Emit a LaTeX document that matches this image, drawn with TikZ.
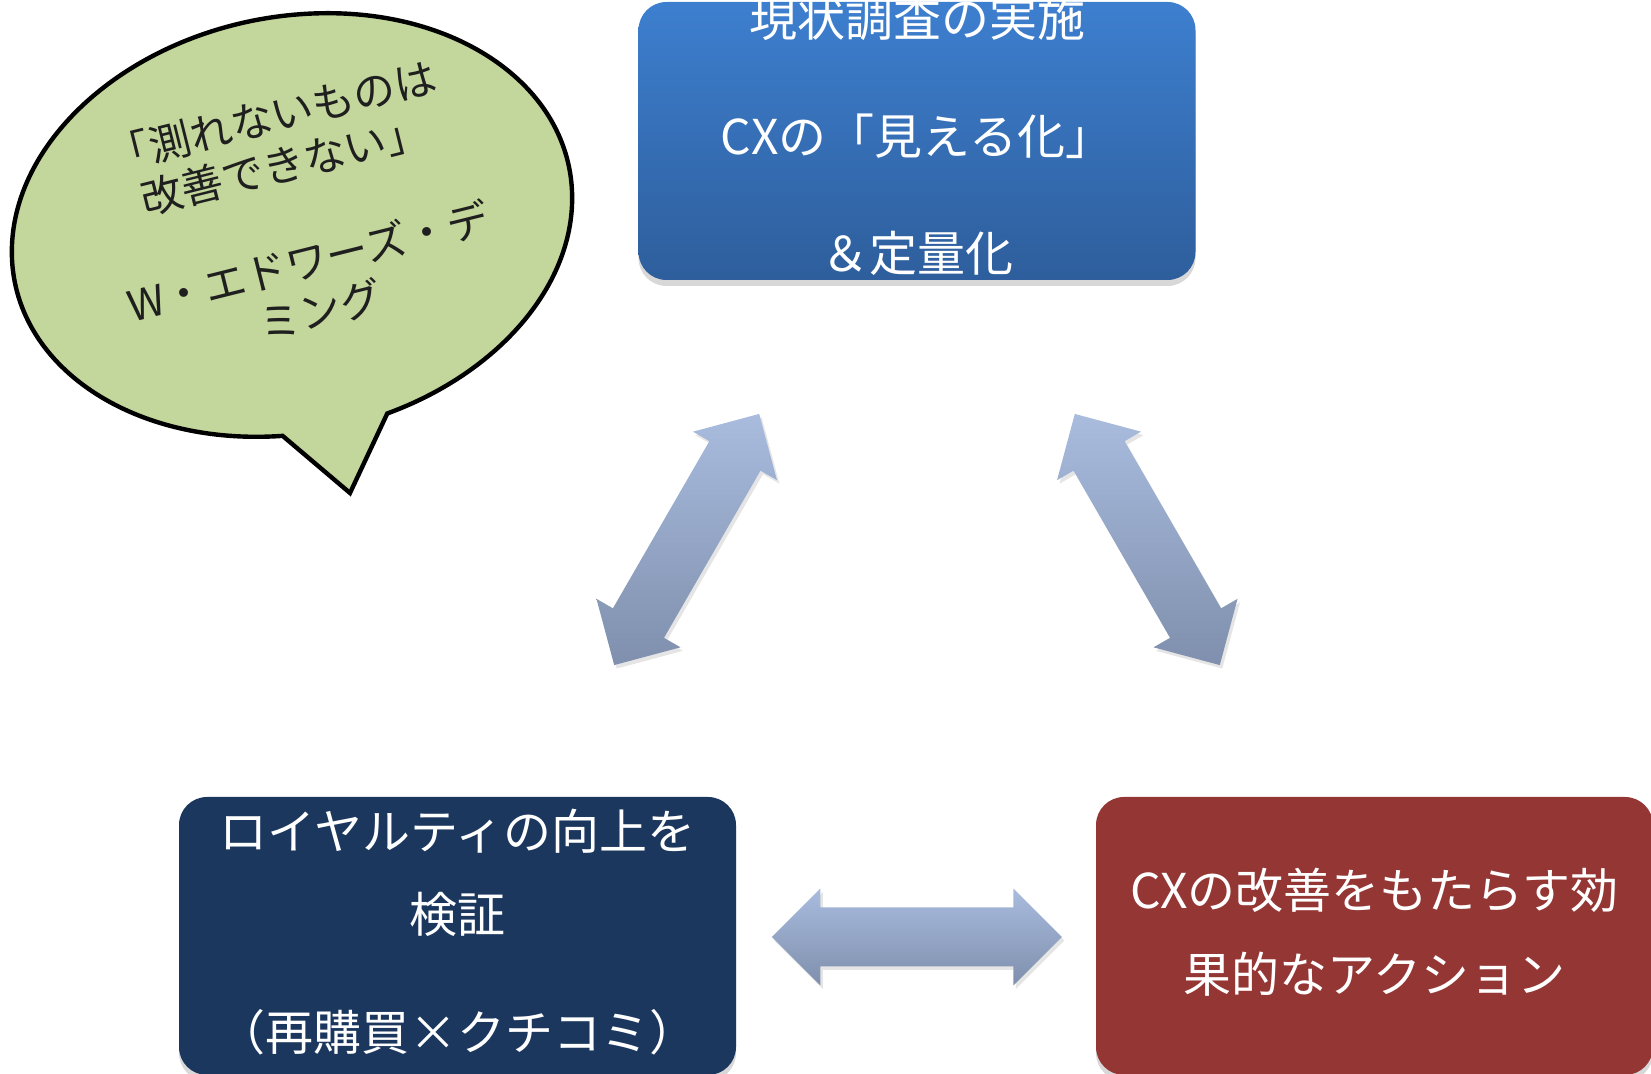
\documentclass[tikz,border=0pt]{standalone}
\usepackage{fontspec}
\setmainfont{Noto Sans CJK JP}
\usetikzlibrary{calc,shadows}
\definecolor{topA}{HTML}{3D7FCF}
\definecolor{topB}{HTML}{2E5E9C}
\definecolor{navy}{HTML}{1B375E}
\definecolor{brick}{HTML}{943634}
\definecolor{bubblegreen}{HTML}{C3D69B}
\definecolor{arrA}{HTML}{A9BCDE}
\definecolor{arrB}{HTML}{7F8FAD}
% double block arrow: #1 centre, #2 direction angle, #3 style
\newcommand\dblblock[3]{%
  \path[#3] ($(#1)+(#2:145)$)
    -- ($(#1)+(#2:96.5)+(#2+90:48.5)$)
    -- ($(#1)+(#2:96.5)+(#2+90:29.5)$)
    -- ($(#1)+(#2+180:96.5)+(#2+90:29.5)$)
    -- ($(#1)+(#2+180:96.5)+(#2+90:48.5)$)
    -- ($(#1)+(#2+180:145)$)
    -- ($(#1)+(#2+180:96.5)+(#2-90:48.5)$)
    -- ($(#1)+(#2+180:96.5)+(#2-90:29.5)$)
    -- ($(#1)+(#2:96.5)+(#2-90:29.5)$)
    -- ($(#1)+(#2:96.5)+(#2-90:48.5)$)
    -- cycle;}
\begin{document}
\begin{tikzpicture}[x=0.5pt,y=-0.5pt,
  card/.style={rounded corners=14pt, minimum width=278.5pt, minimum height=139pt,
    inner sep=0pt},
  cardtext/.style={text=white, align=center, inner sep=0pt,
    font=\fontsize{24pt}{41.75pt}\selectfont},
  cardshadow/.style={drop shadow={shadow xshift=0pt, shadow yshift=-3pt, opacity=0.22, fill=black!70}},
  blockarrow/.style={top color=arrA, bottom color=arrB},
  arrowshadow/.style={fill=black, opacity=0.1},
  bubbleshape/.style={draw=black, line width=2.2pt, fill=bubblegreen, line join=miter},
]
\useasboundingbox (0,0) rectangle (1651,1074);

% ---- speech bubble ----
\coordinate (bubc) at (292,225);
\coordinate (btip) at (350,493);
\begin{scope}[shift={(bubc)}, rotate=12]
  \path[bubbleshape] (100.8:283 and 208)
    arc[start angle=100.8, end angle=439, x radius=283, y radius=208]
    -- (btip) -- cycle;
\end{scope}
\node[rotate=14, align=center, text=black!88, inner sep=0pt,
  font=\fontsize{21pt}{25pt}\selectfont] (quote) at (296,213)
  {「測れないものは\\改善できない」\\[25pt]W・エドワーズ・デ\\ミング};

% ---- boxes ----
\node[card, cardshadow, top color=topA, bottom color=topB] (boxTop) at (917,141) {};
\node[cardtext, font=\fontsize{24pt}{58.75pt}\selectfont] (boxTopText) at (917,136)
  {現状調査の実施\\CXの「見える化」\\＆定量化};
\node[card, cardshadow, fill=navy] (boxLoyal) at (457.5,936) {};
\node[cardtext] (boxLoyalText) at (457.5,932)
  {ロイヤルティの向上を\\検証\\[17.25pt]（再購買×クチコミ）};
\node[card, cardshadow, fill=brick] (boxAction) at (1374.5,936) {};
\node[cardtext] (boxActionText) at (1374.5,932)
  {CXの改善をもたらす効\\果的なアクション};

% ---- block arrows ----
\coordinate (aL) at (686.7,539.5);
\coordinate (aR) at (1147.3,539.5);
\coordinate (aH) at (916.8,937);
\coordinate (aLs) at (689.2,543);
\coordinate (aRs) at (1149.8,543);
\coordinate (aHs) at (919.3,940.5);
\dblblock{aLs}{-60}{arrowshadow}
\dblblock{aRs}{-120}{arrowshadow}
\dblblock{aHs}{0}{arrowshadow}
\dblblock{aL}{-60}{blockarrow}
\dblblock{aR}{-120}{blockarrow}
\dblblock{aH}{0}{blockarrow}
\end{tikzpicture}
\end{document}
